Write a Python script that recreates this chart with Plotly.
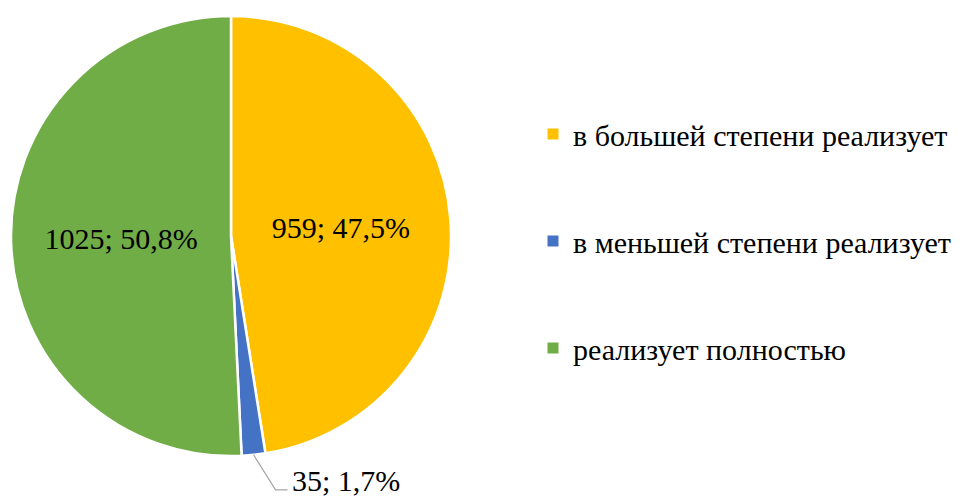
import math
import plotly.graph_objects as go

categories = ["в большей степени реализует", "в меньшей степени реализует", "реализует полностью"]
values = [959, 35, 1025]
colors = ["#FFC000", "#4472C4", "#70AD47"]

OFF = 8  # page body margin
W, H = 979 - OFF, 499 - OFF
FONT_PIE = "Liberation Serif"
FONT_ANN = "serif"
FONT_LEG = "Times New Roman"
FS = 30

total = sum(values)
texts = [f"{v}; {v / total * 100:.1f}%".replace(".", ",") for v in values]

# pie placement in (screen) pixels
cx, cy, r = 231 - OFF, 236 - OFF, 220
dom_x = [(cx - r) / W, (cx + r) / W]
dom_y = [1 - (cy + r) / H, 1 - (cy - r) / H]


def px(x):
    return x / W


def py(y):
    return 1 - y / H


fig = go.Figure()
fig.add_trace(go.Pie(
    labels=categories, values=values, sort=False, direction="clockwise", rotation=0,
    marker=dict(colors=colors, line=dict(color="white", width=2.5)),
    text=[texts[0], "", texts[2]], textinfo="text",
    textposition=["inside", "none", "inside"],
    insidetextorientation="horizontal",
    textfont=dict(family=FONT_PIE, size=FS, color="black"),
    domain=dict(x=dom_x, y=dom_y), showlegend=False, hoverinfo="label+value+percent",
))

# leader line for the small slice, computed from the data
start = sum(values[:1]) / total * 2 * math.pi
end = sum(values[:2]) / total * 2 * math.pi
mid = (start + end) / 2
ex = cx + r * math.sin(mid)
ey = cy - r * math.cos(mid)
kx, ky = ex + 22, ey + 35
tx = kx + 12

fig.add_shape(type="path", xref="paper", yref="paper",
              path=f"M {px(ex)},{py(ey)} L {px(kx)},{py(ky)} L {px(tx)},{py(ky)}",
              line=dict(color="#A6A6A6", width=1.2))
fig.add_annotation(x=px(tx + 2), y=py(ky - 9), xref="paper", yref="paper", text=texts[1],
                   showarrow=False, xanchor="left", yanchor="middle",
                   font=dict(family=FONT_ANN, size=FS, color="black"))

# legend entries
for i, (c, col) in enumerate(zip(categories, colors)):
    fig.add_trace(go.Scatter(x=[None], y=[None], mode="markers", name=c,
                             marker=dict(symbol="square", size=11, color=col),
                             legendgroup=str(i), showlegend=True))

fig.update_layout(
    width=W, height=H, margin=dict(l=0, r=0, t=0, b=0),
    paper_bgcolor="white", plot_bgcolor="white",
    xaxis=dict(visible=False), yaxis=dict(visible=False),
    legend=dict(x=(533 - OFF) / W, y=py(241 - OFF), xanchor="left", yanchor="middle",
                font=dict(family=FONT_LEG, size=FS, color="black"),
                tracegroupgap=65, itemwidth=30, bgcolor="rgba(0,0,0,0)"),
    showlegend=True,
)

fig.write_html("out.html")
